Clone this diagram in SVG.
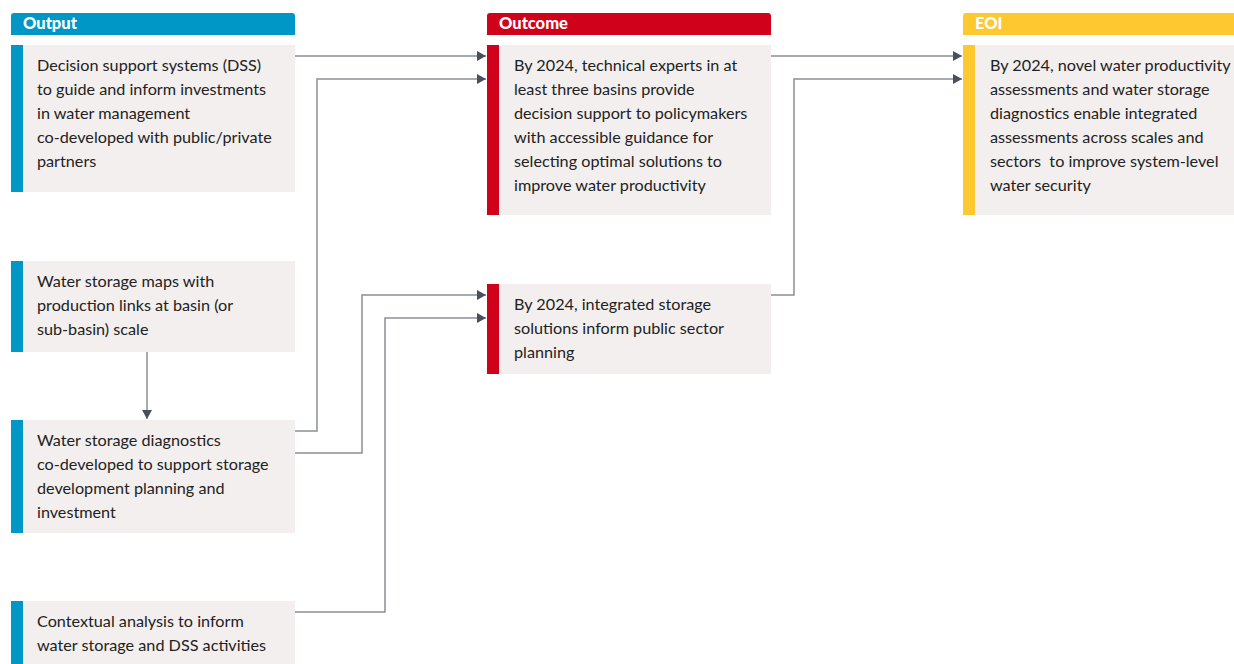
<svg xmlns="http://www.w3.org/2000/svg" width="1234" height="664" viewBox="0 0 1234 664">
  <style>
    .hdr { font-family: "Lato", "Liberation Sans", sans-serif; font-weight: 900; font-size: 16.5px; fill: #ffffff; }
    .box { fill: #f2efee; }
    .txt { font-family: "Lato", "Liberation Sans", sans-serif; font-size: 16.2px; fill: #222222; }
    .blue { fill: #0096c6; }
    .red { fill: #d0021b; }
    .yellow { fill: #fdc830; }
    .conn { fill: none; stroke: #8a8e98; stroke-width: 1.5; }
  </style>
  <defs>
    <marker id="arrow" markerWidth="9" markerHeight="10" refX="9" refY="5" orient="auto" markerUnits="userSpaceOnUse">
      <path d="M0,0 L9,5 L0,10 Z" fill="#4a4f5c"/>
    </marker>
  </defs>

  <!-- column headers -->
  <g id="hdr-output">
    <path class="blue" d="M11,35 V16 a3,3 0 0 1 3,-3 H292 a3,3 0 0 1 3,3 V35 Z"/>
    <text class="hdr" x="23" y="28.5">Output</text>
  </g>
  <g id="hdr-outcome">
    <path class="red" d="M487,35 V16 a3,3 0 0 1 3,-3 H768 a3,3 0 0 1 3,3 V35 Z"/>
    <text class="hdr" x="499" y="28.5">Outcome</text>
  </g>
  <g id="hdr-eoi">
    <path class="yellow" d="M963,35 V16 a3,3 0 0 1 3,-3 H1234 V35 Z"/>
    <text class="hdr" x="975" y="28.5">EOI</text>
  </g>

  <!-- connectors -->
  <g id="connectors">
    <path class="conn" d="M295,56 H486" marker-end="url(#arrow)"/>
    <path class="conn" d="M295,431 H317 V79 H486" marker-end="url(#arrow)"/>
    <path class="conn" d="M295,453 H362 V295 H486" marker-end="url(#arrow)"/>
    <path class="conn" d="M295,612 H385 V318 H486" marker-end="url(#arrow)"/>
    <path class="conn" d="M771,56 H962" marker-end="url(#arrow)"/>
    <path class="conn" d="M771,295 H794 V79 H962" marker-end="url(#arrow)"/>
    <path class="conn" d="M147,352 V419" marker-end="url(#arrow)"/>
  </g>

  <!-- output nodes -->
  <g id="out-dss">
    <rect class="box" x="11" y="45" width="284" height="147"/>
    <rect class="blue" x="11" y="45" width="12" height="147"/>
    <text class="txt" x="37" y="71">Decision support systems (DSS)</text>
    <text class="txt" x="37" y="95">to guide and inform investments</text>
    <text class="txt" x="37" y="119">in water management</text>
    <text class="txt" x="37" y="143">co-developed with public/private</text>
    <text class="txt" x="37" y="167">partners</text>
  </g>
  <g id="out-maps">
    <rect class="box" x="11" y="261" width="284" height="91"/>
    <rect class="blue" x="11" y="261" width="12" height="91"/>
    <text class="txt" x="37" y="287">Water storage maps with</text>
    <text class="txt" x="37" y="311">production links at basin (or</text>
    <text class="txt" x="37" y="335">sub-basin) scale</text>
  </g>
  <g id="out-diagnostics">
    <rect class="box" x="11" y="420" width="284" height="113"/>
    <rect class="blue" x="11" y="420" width="12" height="113"/>
    <text class="txt" x="37" y="446">Water storage diagnostics</text>
    <text class="txt" x="37" y="470">co-developed to support storage</text>
    <text class="txt" x="37" y="494">development planning and</text>
    <text class="txt" x="37" y="518">investment</text>
  </g>
  <g id="out-context">
    <rect class="box" x="11" y="601" width="284" height="63"/>
    <rect class="blue" x="11" y="601" width="12" height="63"/>
    <text class="txt" x="37" y="627">Contextual analysis to inform</text>
    <text class="txt" x="37" y="651">water storage and DSS activities</text>
  </g>

  <!-- outcome nodes -->
  <g id="outcome-experts">
    <rect class="box" x="487" y="45" width="284" height="170"/>
    <rect class="red" x="487" y="45" width="12" height="170"/>
    <text class="txt" x="514" y="71">By 2024, technical experts in at</text>
    <text class="txt" x="514" y="95">least three basins provide</text>
    <text class="txt" x="514" y="119">decision support to policymakers</text>
    <text class="txt" x="514" y="143">with accessible guidance for</text>
    <text class="txt" x="514" y="167">selecting optimal solutions to</text>
    <text class="txt" x="514" y="191">improve water productivity</text>
  </g>
  <g id="outcome-storage">
    <rect class="box" x="487" y="284" width="284" height="90"/>
    <rect class="red" x="487" y="284" width="12" height="90"/>
    <text class="txt" x="514" y="310">By 2024, integrated storage</text>
    <text class="txt" x="514" y="334">solutions inform public sector</text>
    <text class="txt" x="514" y="358">planning</text>
  </g>

  <!-- end-of-initiative node -->
  <g id="eoi-security">
    <rect class="box" x="963" y="45" width="271" height="170"/>
    <rect class="yellow" x="963" y="45" width="12" height="170"/>
    <text class="txt" x="990" y="71">By 2024, novel water productivity</text>
    <text class="txt" x="990" y="95">assessments and water storage</text>
    <text class="txt" x="990" y="119">diagnostics enable integrated</text>
    <text class="txt" x="990" y="143">assessments across scales and</text>
    <text class="txt" x="990" y="167" xml:space="preserve">sectors  to improve system-level</text>
    <text class="txt" x="990" y="191">water security</text>
  </g>
</svg>
